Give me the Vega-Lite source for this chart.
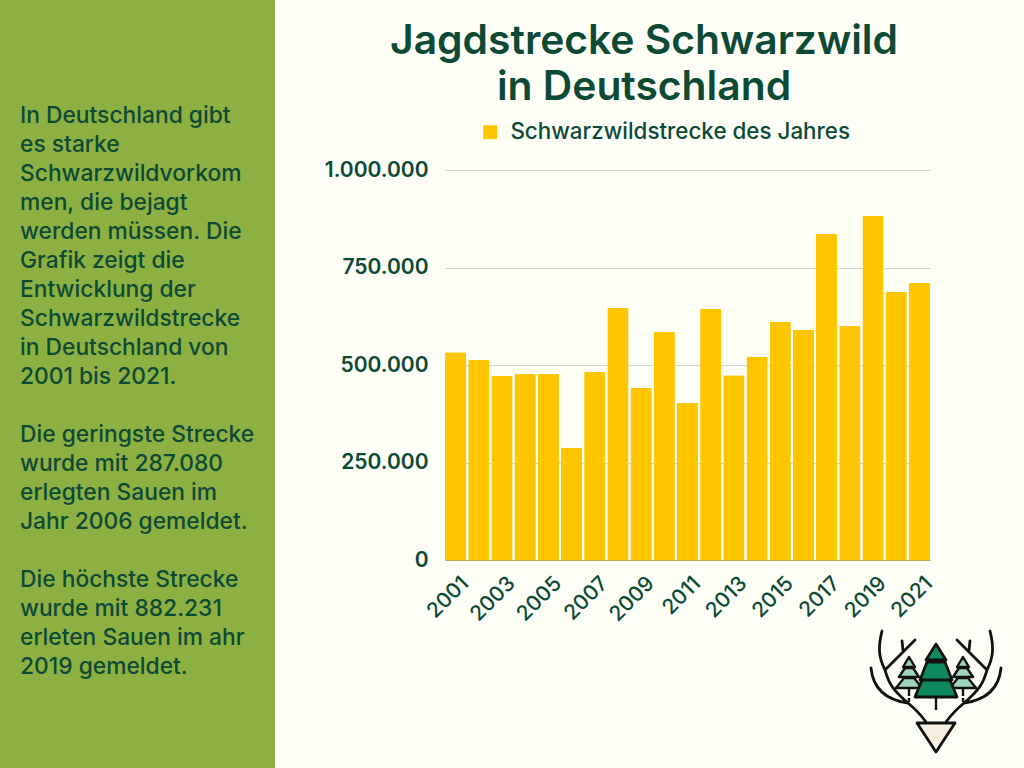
{
"$schema":"https://vega.github.io/schema/vega-lite/v6.json",
"width":485,"height":390,
"autosize":{"type":"none"},
"padding":{"left":445,"top":170,"right":94,"bottom":208},
"background":"#fdfff7",
"config":{"view":{"stroke":null},"font":"Inter"},
"data":{"values":[
{"jahr":"2001","strecke":533000,"serie":"Schwarzwildstrecke des Jahres"},
{"jahr":"2002","strecke":513000,"serie":"Schwarzwildstrecke des Jahres"},
{"jahr":"2003","strecke":472000,"serie":"Schwarzwildstrecke des Jahres"},
{"jahr":"2004","strecke":477000,"serie":"Schwarzwildstrecke des Jahres"},
{"jahr":"2005","strecke":477000,"serie":"Schwarzwildstrecke des Jahres"},
{"jahr":"2006","strecke":287080,"serie":"Schwarzwildstrecke des Jahres"},
{"jahr":"2007","strecke":482000,"serie":"Schwarzwildstrecke des Jahres"},
{"jahr":"2008","strecke":646000,"serie":"Schwarzwildstrecke des Jahres"},
{"jahr":"2009","strecke":441000,"serie":"Schwarzwildstrecke des Jahres"},
{"jahr":"2010","strecke":585000,"serie":"Schwarzwildstrecke des Jahres"},
{"jahr":"2011","strecke":403000,"serie":"Schwarzwildstrecke des Jahres"},
{"jahr":"2012","strecke":644000,"serie":"Schwarzwildstrecke des Jahres"},
{"jahr":"2013","strecke":474000,"serie":"Schwarzwildstrecke des Jahres"},
{"jahr":"2014","strecke":521000,"serie":"Schwarzwildstrecke des Jahres"},
{"jahr":"2015","strecke":610000,"serie":"Schwarzwildstrecke des Jahres"},
{"jahr":"2016","strecke":590000,"serie":"Schwarzwildstrecke des Jahres"},
{"jahr":"2017","strecke":836000,"serie":"Schwarzwildstrecke des Jahres"},
{"jahr":"2018","strecke":600000,"serie":"Schwarzwildstrecke des Jahres"},
{"jahr":"2019","strecke":882231,"serie":"Schwarzwildstrecke des Jahres"},
{"jahr":"2020","strecke":687000,"serie":"Schwarzwildstrecke des Jahres"},
{"jahr":"2021","strecke":710000,"serie":"Schwarzwildstrecke des Jahres"}
]},
"layer":[
{"data":{"values":[{"element":"Seitenleiste"}]},
 "mark":{"type":"rect","fill":"#8db042"},
 "encoding":{"x":{"value":-445},"x2":{"value":-170},"y":{"value":-170},"y2":{"value":598}}},
{"data":{"values":[{"titel":"Jagdstrecke Schwarzwild\nin Deutschland"}]},
 "mark":{"type":"text","align":"center","baseline":"middle","lineBreak":"\n","lineHeight":46,"font":"Inter","fontSize":40.8,"fontWeight":600,"color":"#0d4a36"},
 "encoding":{"text":{"field":"titel"},"x":{"value":199},"y":{"value":-128}}},
{"data":{"values":[{"beschreibung":"In Deutschland gibt\nes starke\nSchwarzwildvorkom\nmen, die bejagt\nwerden müssen. Die\nGrafik zeigt die\nEntwicklung der\nSchwarzwildstrecke\nin Deutschland von\n2001 bis 2021."}]},
 "mark":{"type":"text","align":"left","baseline":"middle","lineBreak":"\n","lineHeight":29,"font":"Inter","fontSize":22.8,"fontWeight":500,"color":"#0d4a36"},
 "encoding":{"text":{"field":"beschreibung"},"x":{"value":-425},"y":{"value":-54.5}}},
{"data":{"values":[{"beschreibung":"Die geringste Strecke\nwurde mit 287.080\nerlegten Sauen im\nJahr 2006 gemeldet."}]},
 "mark":{"type":"text","align":"left","baseline":"middle","lineBreak":"\n","lineHeight":29,"font":"Inter","fontSize":22.8,"fontWeight":500,"color":"#0d4a36"},
 "encoding":{"text":{"field":"beschreibung"},"x":{"value":-425},"y":{"value":264.5}}},
{"data":{"values":[{"beschreibung":"Die höchste Strecke\nwurde mit 882.231\nerleten Sauen im ahr\n2019 gemeldet."}]},
 "mark":{"type":"text","align":"left","baseline":"middle","lineBreak":"\n","lineHeight":29,"font":"Inter","fontSize":22.8,"fontWeight":500,"color":"#0d4a36"},
 "encoding":{"text":{"field":"beschreibung"},"x":{"value":-425},"y":{"value":409.5}}},
{"mark":{"type":"bar","cornerRadiusTopLeft":1,"cornerRadiusTopRight":1},
 "encoding":{
  "x":{"field":"jahr","type":"ordinal","title":null,"scale":{"paddingInner":0.085,"paddingOuter":0},
   "axis":{"values":["2001","2003","2005","2007","2009","2011","2013","2015","2017","2019","2021"],"labelAngle":-45,"labelAlign":"right","labelBaseline":"middle","labelOverlap":false,"labelFont":"Inter","labelFontSize":21,"labelFontWeight":500,"labelColor":"#0d4a36","labelPadding":20,"labelOffset":10,"ticks":false,"domainColor":"#b8a84e","domainWidth":1,"grid":false,"zindex":1}},
  "y":{"field":"strecke","type":"quantitative","title":null,"scale":{"domain":[0,1000000]},
   "axis":{"values":[0,250000,500000,750000,1000000],"labelExpr":"replace(format(datum.value,','),/,/g,'.')","labelFont":"Inter","labelFontSize":21,"labelFontWeight":600,"labelColor":"#0d4a36","labelPadding":17,"labelOffset":0,"ticks":false,"domain":false,"grid":true,"gridColor":"#cdd8cd","gridWidth":1}},
  "color":{"field":"serie","type":"nominal","scale":{"range":["#ffc600"]},
   "legend":{"title":null,"orient":"none","legendX":34,"legendY":-49,"symbolType":"square","symbolSize":196,"labelFont":"Inter","labelFontSize":22.4,"labelFontWeight":500,"labelColor":"#0d4a36","labelLimit":400,"labelOffset":9}}
 }},
{"data":{"values":[{"element":"Logo"}]},
 "mark":{"type":"point","shape":"M-54,-49C-59,-30 -56,-20 -51,-10C-48,0 -46,8 -28,23C-22,28 -15,35 -10,42M-65,-12C-63,8 -50,20 -28,23M-51,-10L-21,-40M-34,-39L-33,-30M54,-49C59,-30 56,-20 51,-10C48,0 46,8 28,23C22,28 15,35 10,42M65,-12C63,8 50,20 28,23M51,-10L21,-40M34,-39L33,-30","size":4,"filled":false,"stroke":"#111111","strokeWidth":2.8,"opacity":1,"strokeCap":"round"},
 "encoding":{"x":{"value":491},"y":{"value":510}}},
{"data":{"values":[{"element":"Logo"}]},
 "mark":{"type":"point","shape":"M-27,-23L-21,-13L-33,-13ZM-31,-12L-23,-12L-17,-3L-37,-3ZM-32,-2L-22,-2L-14,8L-40,8ZM27,-23L33,-13L21,-13ZM23,-12L31,-12L37,-3L17,-3ZM22,-2L32,-2L40,8L14,8Z","size":4,"filled":true,"fill":"#9fd5b8","stroke":"#111111","strokeWidth":2.4,"opacity":1,"strokeJoin":"round"},
 "encoding":{"x":{"value":491},"y":{"value":510}}},
{"data":{"values":[{"element":"Logo"}]},
 "mark":{"type":"point","shape":"M-27,9L-27,16M-27,18L-27,22M27,9L27,16M27,18L27,22M0,17L0,30","size":4,"filled":false,"stroke":"#111111","strokeWidth":2.4,"opacity":1},
 "encoding":{"x":{"value":491},"y":{"value":510}}},
{"data":{"values":[{"element":"Logo"}]},
 "mark":{"type":"point","shape":"M0,-36L10,-20L-10,-20ZM-9,-18L9,-18L16,0L-16,0ZM-14,0L14,0L21,17L-21,17Z","size":4,"filled":true,"fill":"#0f8a5f","stroke":"#111111","strokeWidth":2.8,"opacity":1,"strokeJoin":"round"},
 "encoding":{"x":{"value":491},"y":{"value":510}}},
{"data":{"values":[{"element":"Logo"}]},
 "mark":{"type":"point","shape":"M-19,43L19,43L0,72Z","size":4,"filled":true,"fill":"#f8efe0","stroke":"#111111","strokeWidth":2.8,"opacity":1,"strokeJoin":"round"},
 "encoding":{"x":{"value":491},"y":{"value":510}}}
]
}
